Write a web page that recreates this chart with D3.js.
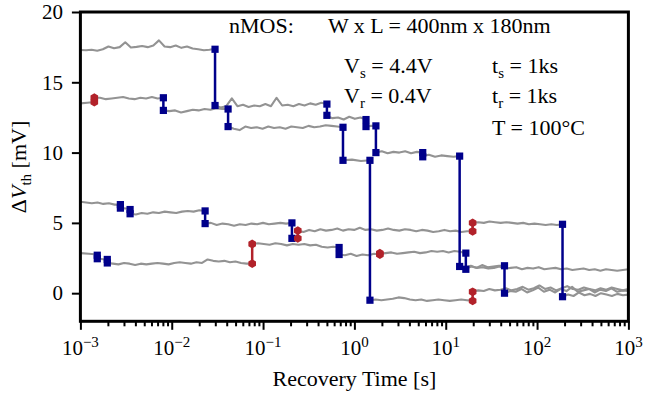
<!DOCTYPE html>
<html><head><meta charset="utf-8">
<script src="https://cdn.jsdelivr.net/npm/d3@7"></script>
<style>
body{margin:0;background:#fff}
svg{display:block}
text{font-family:"Liberation Serif","Times New Roman",serif;fill:#000}
</style>
</head><body>
<svg id="c" width="645" height="399"></svg>
<script>
// ---------------- DATA ----------------
const xTickValues = [1e-3, 1e-2, 1e-1, 1, 10, 100, 1000];
const xTickExponents = ["\u22123", "\u22122", "\u22121", "0", "1", "2", "3"];
const yTickValues = [0, 5, 10, 15, 20];

// Each trace: list of segments [tStart, tEnd, sampled ΔVth values (mV)]
const traceA = [
  [0.001, 0.0298, [17.3,17.28,17.32,17.25,17.35,17.55,17.42,17.5,17.85,17.48,17.52,17.58,17.5,17.62,17.98,17.55,17.5,17.62,17.45,17.55,17.4,17.35,17.28,17.32,17.38]],
  [0.0298, 0.50, [13.35,13.2,13.3,13.85,13.3,13.4,13.25,13.35,13.3,13.45,13.3,13.9,13.35,13.4,13.3,13.45,13.35,13.5,13.4,13.55,13.45]],
  [0.50, 1.34, [12.6,12.45,12.5,12.35,12.55,12.4,12.5,12.35]],
  [1.34, 1.72, [11.85,11.9,11.9]],
  [1.72, 5.6, [10.0,10.1,9.95,10.05,10.0,10.1,9.95,10.05,10.0]],
  [5.6, 14.2, [9.75,9.85,9.7,9.8,9.75,9.7,9.75]],
  [14.2, 44, [1.9,1.85,1.95,1.8,2.0,1.85,1.9,1.95,1.95]],
  [44, 1000, [0.0,0.15,0.1,0.3,0.05,0.2,0.4,0.1,0.25,0.05,0.3,0.15,0.45,0.1,0.2,0.3,0.05,0.25,0.15,0.35,0.1,0.2,0.15]]
];
const traceB = [
  [0.001, 0.00142, [13.5,13.55,13.6]],
  [0.00142, 0.0081, [13.9,13.9,13.8,13.85,13.9,13.95,13.85,13.8,13.9,13.85,13.95,13.85,13.9]],
  [0.0081, 0.0414, [13.0,12.95,13.0,12.85,12.95,13.05,13.0,13.1,13.05,13.15,13.1,13.1]],
  [0.0414, 0.75, [11.85,11.7,11.6,11.85,11.75,11.8,11.7,11.85,11.75,11.8,11.7,11.85,11.8,11.75,11.9,11.8,11.85,11.95,11.9,11.85,11.8]],
  [0.75, 1.48, [9.45,9.5,9.4,9.45]],
  [1.48, 19.7, [-0.5,-0.45,-0.5,-0.45,-0.4,-0.3,-0.35,-0.45,-0.5,-0.45,-0.55,-0.5,-0.45,-0.5,-0.55,-0.5,-0.45,-0.5,-0.55]],
  [19.7, 1000, [0.1,0.2,0.15,0.3,0.2,0.25,0.35,0.2,0.3,0.45,0.25,0.35,0.55,0.3,0.4,0.2,0.35,0.5,0.3,0.25,0.4,0.3,0.2,0.35,0.25,0.4,0.3,0.2,0.3]]
];
const traceC = [
  [0.001, 0.00274, [6.5,6.45,6.4,6.45,6.35,6.4,6.3,6.3]],
  [0.00274, 0.0035, [6.05,6.0]],
  [0.0035, 0.0232, [5.65,5.6,5.7,5.65,5.75,5.7,5.8,5.75,5.7,5.8,5.85,5.8,5.9,5.85]],
  [0.0232, 0.207, [4.95,5.0,4.85,4.95,4.9,4.8,4.9,4.85,4.95,4.9,5.0,4.9,4.95,5.0,4.95,5.0]],
  [0.207, 0.24, [3.9,3.9]],
  [0.24, 19.7, [4.45,4.35,4.5,4.4,4.55,4.45,4.5,4.6,4.45,4.55,4.5,4.65,4.5,4.55,4.45,4.5,4.6,4.5,4.45,4.55,4.5,4.4,4.5,4.45,4.35,4.4,4.5,4.4,4.45,4.35,4.4,4.4]],
  [19.7, 190, [5.0,5.05,5.0,5.1,5.05,5.0,5.05,5.0,4.95,5.0,4.9,4.95,4.9,4.85,4.9,4.85,4.9]],
  [190, 1000, [-0.25,-0.1,-0.2,0.05,-0.15,-0.05,-0.2,0.0,-0.1,-0.2,-0.05,-0.15,-0.1]]
];
const traceD = [
  [0.001, 0.00153, [2.85,2.8,2.75]],
  [0.00153, 0.00197, [2.45,2.4]],
  [0.00197, 0.076, [2.15,2.1,2.05,2.15,2.1,2.0,2.1,2.05,2.1,2.15,2.1,2.05,2.15,2.2,2.15,2.1,2.2,2.15,2.4,2.3,2.25,2.3,2.2,2.25,2.15,2.1,2.1]],
  [0.076, 0.68, [3.5,3.55,3.5,3.45,3.55,3.5,3.4,3.5,3.45,3.5,3.4,3.45,3.3,3.25,3.3,3.25]],
  [0.68, 1.9, [2.75,2.7,2.8,2.65,2.75,2.7,2.8,2.75]],
  [1.9, 16.6, [2.8,2.85,2.9,2.8,2.85,2.9,2.95,2.85,2.9,3.0,2.95,3.0,2.9,3.0,2.95,2.85]],
  [16.6, 1000, [1.75,1.9,1.8,1.85,1.75,1.8,1.9,1.75,1.8,1.85,1.7,1.8,1.75,1.85,1.7,1.75,1.8,1.7,1.75,1.65,1.7,1.75,1.65,1.7,1.6,1.7,1.65,1.6,1.65,1.7]]
];
// Step events: [time (s), level before, level after, kind] ; "e" = emission (blue), "c" = capture (red)
const eventsA = [[0.0298,17.35,13.35,"e"],[0.50,13.45,12.65,"e"],[1.34,12.35,11.85,"e"],[1.72,11.9,10.0,"e"],[5.6,10.0,9.7,"e"],[14.2,9.75,1.9,"e"],[44,1.95,0.0,"e"]];
const eventsB = [[0.00142,13.6,13.9,"c"],[0.0081,13.9,13.0,"e"],[0.0414,13.1,11.85,"e"],[0.75,11.8,9.45,"e"],[1.48,9.45,-0.5,"e"],[19.7,-0.55,0.1,"c"]];
const eventsC = [[0.00274,6.3,6.05,"e"],[0.0035,5.95,5.65,"e"],[0.0232,5.85,4.95,"e"],[0.207,5.0,3.9,"e"],[0.24,3.9,4.45,"c"],[19.7,4.4,5.0,"c"],[190,4.9,-0.25,"e"]];
const eventsD = [[0.00153,2.7,2.45,"e"],[0.00197,2.4,2.15,"e"],[0.076,2.1,3.5,"c"],[0.68,3.25,2.75,"e"],[1.9,2.75,2.85,"c"],[16.6,2.85,1.7,"e"]];

// ---------------- DRAW ----------------
const M = {l: 80.4, r: 628.4, t: 12, b: 321.3};
const x = d3.scaleLog().domain([1e-3, 1e3]).range([M.l, M.r]);
const y = d3.scaleLinear().domain([-2, 20]).range([M.b, M.t]);
const svg = d3.select("#c");

svg.append("defs").append("clipPath").attr("id", "clip")
  .append("rect").attr("x", M.l).attr("y", M.t).attr("width", M.r - M.l).attr("height", M.b - M.t);

const plot = svg.append("g").attr("clip-path", "url(#clip)");
const line = d3.line().x(d => x(d[0])).y(d => y(d[1]));

function segPoints(seg) {
  const [t0, t1, vals] = seg;
  const l0 = Math.log10(t0), l1 = Math.log10(t1), n = vals.length;
  return vals.map((v, i) => [Math.pow(10, l0 + (l1 - l0) * (n > 1 ? i / (n - 1) : 0)), v]);
}

const traces = [traceA, traceB, traceC, traceD];
const events = [eventsA, eventsB, eventsC, eventsD];

traces.forEach(tr => {
  tr.forEach(seg => {
    plot.append("path").datum(segPoints(seg))
      .attr("d", line).attr("fill", "none")
      .attr("stroke", "#939393").attr("stroke-width", 2.1)
      .attr("stroke-linejoin", "round");
  });
});

const BLUE = "#00008b", RED = "#b2222a";
function hexPath(r) {
  const p = [];
  for (let k = 0; k < 6; k++) {
    const a = (-90 + 60 * k) * Math.PI / 180;
    p.push([r * Math.cos(a), r * Math.sin(a)]);
  }
  return "M" + p.map(q => q[0].toFixed(2) + "," + q[1].toFixed(2)).join("L") + "Z";
}
const hex = hexPath(4.4);
const evG = svg.append("g");
events.forEach(evs => {
  evs.forEach(ev => {
    const [t, v0, v1, kind] = ev;
    const c = kind === "e" ? BLUE : RED;
    evG.append("line").attr("x1", x(t)).attr("x2", x(t)).attr("y1", y(v0)).attr("y2", y(v1))
      .attr("stroke", c).attr("stroke-width", 2.5);
    [v0, v1].forEach(v => {
      if (kind === "e") {
        evG.append("rect").attr("x", x(t) - 3.6).attr("y", y(v) - 3.6)
          .attr("width", 7.2).attr("height", 7.2).attr("fill", c);
      } else {
        evG.append("path").attr("d", hex).attr("transform", `translate(${x(t)},${y(v)})`).attr("fill", c);
      }
    });
  });
});

// axes
const minor = [];
for (let e = -3; e < 3; e++) for (let k = 2; k <= 9; k++) minor.push(k * Math.pow(10, e));
const xMinorAxis = d3.axisBottom(x).tickValues(minor).tickSize(5).tickFormat("");
const xMajorAxis = d3.axisBottom(x).tickValues(xTickValues).tickSize(8.5).tickFormat("");
const gxm = svg.append("g").attr("transform", `translate(0,${M.b})`).call(xMinorAxis);
const gxM = svg.append("g").attr("transform", `translate(0,${M.b})`).call(xMajorAxis);
[gxm, gxM].forEach(g => {
  g.select(".domain").remove();
  g.selectAll("line").attr("stroke", "#000").attr("stroke-width", 2);
});
xTickValues.forEach((v, i) => {
  const t = svg.append("text").attr("x", x(v)).attr("y", 355).attr("text-anchor", "middle")
    .attr("font-size", 21);
  t.append("tspan").text("10");
  t.append("tspan").attr("dy", -8).attr("font-size", 15).text(xTickExponents[i]);
});

const yAxis = d3.axisLeft(y).tickValues(yTickValues).tickSize(8.5).tickPadding(9).tickFormat(d3.format("d"));
const gy = svg.append("g").attr("transform", `translate(${M.l},0)`).call(yAxis);
gy.select(".domain").remove();
gy.selectAll("line").attr("stroke", "#000").attr("stroke-width", 2);
gy.selectAll("text").attr("font-size", 21).attr("font-family", '"Liberation Serif",serif').attr("fill", "#000");

svg.append("rect").attr("x", M.l).attr("y", M.t).attr("width", M.r - M.l).attr("height", M.b - M.t)
  .attr("fill", "none").attr("stroke", "#000").attr("stroke-width", 3);

// axis labels
svg.append("text").attr("x", (M.l + M.r) / 2).attr("y", 386).attr("text-anchor", "middle")
  .attr("font-size", 22).text("Recovery Time [s]");
const yl = svg.append("text").attr("transform", "translate(26,167) rotate(-90)")
  .attr("text-anchor", "middle").attr("font-size", 22);
yl.append("tspan").text("\u0394");
yl.append("tspan").attr("font-style", "italic").text("V");
yl.append("tspan").attr("font-size", 15).attr("dy", 5).text("th");
yl.append("tspan").attr("dy", -5).text(" [mV]");

// annotations
function ann(xp, yp, main, sub, rest) {
  const t = svg.append("text").attr("x", xp).attr("y", yp).attr("font-size", 22);
  t.append("tspan").text(main);
  if (sub) {
    t.append("tspan").attr("font-size", 15).attr("dy", 5).text(sub);
    t.append("tspan").attr("dy", -5).text(rest);
  }
}
ann(229, 33, "nMOS:");
ann(328, 33, "W x L = 400nm x 180nm");
ann(344, 73, "V", "s", " = 4.4V");
ann(344, 103, "V", "r", " = 0.4V");
ann(492, 73, "t", "s", " = 1ks");
ann(492, 103, "t", "r", " = 1ks");
ann(492, 135, "T = 100\u00b0C");
</script>
</body></html>
